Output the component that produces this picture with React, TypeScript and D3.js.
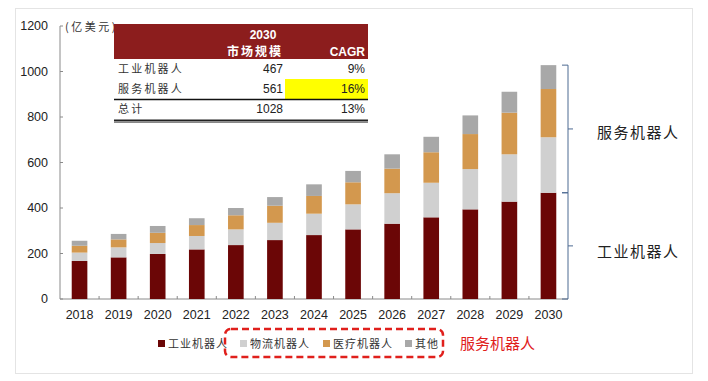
import React from "react";
import * as d3 from "d3";

const years = ["2018","2019","2020","2021","2022","2023","2024","2025","2026","2027","2028","2029","2030"];
const industrial = [167,183,198,218,237,259,281,306,331,359,394,428,467];
const logistics = [37,44,48,59,69,76,94,110,134,152,177,208,244];
const medical = [30,35,45,48,62,75,78,97,108,134,154,183,212];
const other = [22,24,30,30,32,38,51,50,63,68,82,92,105];
const yTicks = [0,200,400,600,800,1000,1200];
const seriesNames = ["工业机器人","物流机器人","医疗机器人","其他"];
const seriesColors = ["#6b0606","#d0d0d0","#d3984e","#a8a8a8"];
const tableRows = [
  { name: "工业机器人", size: "467", cagr: "9%" },
  { name: "服务机器人", size: "561", cagr: "16%" },
  { name: "总计", size: "1028", cagr: "13%" },
];

const CJK = "'Noto Sans CJK SC', sans-serif";
const LAT = "'Liberation Sans', Arial, sans-serif";

export default function App() {
  const x = d3.scaleBand<string>().domain(years).range([60, 568]).paddingInner(0.6).paddingOuter(0.3);
  const y = d3.scaleLinear().domain([0, 1200]).range([299, 26]);
  const step = x.step();
  const data = years.map((yr, i) => ({ year: yr, v: [industrial[i], logistics[i], medical[i], other[i]] }));
  const stack = d3.stack<any>().keys([0,1,2,3] as any).value((d: any, k: any) => d.v[k]);
  const stacked = stack(data as any);

  const lastIdx = years.length - 1;
  const total2030 = industrial[lastIdx] + logistics[lastIdx] + medical[lastIdx] + other[lastIdx];
  const yTop = y(total2030);
  const yMid = y(industrial[lastIdx]);
  const yBot = y(0);
  const bx = 568;
  const braceColor = "#4d6a92";
  const brace = (a: number, b: number) => {
    const m = (a + b) / 2;
    return `M${bx - 6},${a}H${bx}V${b}H${bx - 6}M${bx},${m}H${bx + 5}`;
  };

  const legendX = [158, 240, 323, 405];

  return (
    <div style={{ position: "absolute", left: 0, top: 0 }}>
      <svg width={708} height={381} style={{ display: "block", background: "#fff" }}>
        <rect x={15.5} y={8.5} width={677} height={365} fill="none" stroke="#e4e4e4" />
        {/* y axis */}
        <line x1={60} x2={60} y1={y(1200)} y2={y(0)} stroke="#8a8a8a" />
        {yTicks.map(t => (
          <g key={t}>
            <line x1={60} x2={63} y1={y(t)} y2={y(t)} stroke="#8a8a8a" />
            <text x={48} y={y(t)} dy="0.35em" textAnchor="end" fontFamily={LAT} fontSize={12.5} fill="#222">{t}</text>
          </g>
        ))}
        {/* x axis */}
        <line x1={60} x2={568} y1={y(0)} y2={y(0)} stroke="#8a8a8a" />
        {years.map((yr, i) => (
          <g key={yr}>
            {i > 0 && <line x1={(x(yr) as number) + x.bandwidth() / 2 - step / 2} x2={(x(yr) as number) + x.bandwidth() / 2 - step / 2} y1={y(0)} y2={y(0) - 3} stroke="#8a8a8a" />}
            <text x={(x(yr) as number) + x.bandwidth() / 2} y={315} dy="0.35em" textAnchor="middle" fontFamily={LAT} fontSize={12.5} fill="#222">{yr}</text>
          </g>
        ))}
        {/* bars */}
        {stacked.map((s, si) => (
          <g key={si} fill={seriesColors[si]}>
            {s.map((d: any, i: number) => (
              <rect key={i} x={x(years[i])} width={x.bandwidth()} y={y(d[1])} height={y(d[0]) - y(d[1])} />
            ))}
          </g>
        ))}
        {/* unit label */}
        <text x={65} y={31} fontFamily={CJK} fontSize={11} fill="#333" letterSpacing={2.5}>(亿美元)</text>
        {/* table */}
        <rect x={114} y={24} width={254} height={35} fill="#8c1d1d" />
        <text x={263} y={35} dy="0.35em" textAnchor="middle" fontFamily={LAT} fontWeight="bold" fontSize={12} fill="#fff">2030</text>
        <text x={283} y={52} dy="0.35em" textAnchor="end" fontFamily={CJK} fontWeight="bold" fontSize={12} fill="#fff" letterSpacing={2}>市场规模</text>
        <text x={365} y={52} dy="0.35em" textAnchor="end" fontFamily={LAT} fontWeight="bold" fontSize={12} fill="#fff">CAGR</text>
        <rect x={285} y={79} width={83} height={20} fill="#ffff00" />
        {tableRows.map((r, i) => (
          <g key={r.name}>
            <text x={118} y={69 + i * 20} dy="0.35em" fontFamily={CJK} fontSize={11} fill="#333" letterSpacing={2.2}>{r.name}</text>
            <text x={283} y={69 + i * 20} dy="0.35em" textAnchor="end" fontFamily={LAT} fontSize={12} fill="#222">{r.size}</text>
            <text x={365} y={69 + i * 20} dy="0.35em" textAnchor="end" fontFamily={LAT} fontSize={12} fill="#222">{r.cagr}</text>
          </g>
        ))}
        <line x1={114} x2={368} y1={99.5} y2={99.5} stroke="#111" strokeWidth={1.5} />
        <line x1={114} x2={368} y1={120.5} y2={120.5} stroke="#222" strokeWidth={2} />
        <line x1={114} x2={368} y1={122.5} y2={122.5} stroke="#888" strokeWidth={1} />
        {/* braces */}
        <path d={brace(yTop, yMid)} fill="none" stroke={braceColor} strokeWidth={1} />
        <path d={brace(yMid, yBot)} fill="none" stroke={braceColor} strokeWidth={1} />
        <text x={597} y={(yTop + yMid) / 2 + 4} dy="0.35em" fontFamily={CJK} fontSize={15} fill="#222" letterSpacing={1.5}>服务机器人</text>
        <text x={597} y={(yMid + yBot) / 2 + 6} dy="0.35em" fontFamily={CJK} fontSize={15} fill="#222" letterSpacing={1.5}>工业机器人</text>
        {/* legend */}
        {seriesNames.map((n, i) => (
          <g key={n}>
            <rect x={legendX[i]} y={340} width={7} height={7} fill={seriesColors[i]} />
            <text x={legendX[i] + 10} y={344} dy="0.35em" fontFamily={CJK} fontSize={11} fill="#333" letterSpacing={1}>{n}</text>
          </g>
        ))}
        <rect x={225} y={329} width={218} height={28} rx={6} fill="none" stroke="#e0201c" strokeWidth={2.5} strokeDasharray="7,4" />
        <text x={460} y={344} dy="0.35em" fontFamily={CJK} fontSize={15} fill="#e0201c">服务机器人</text>
      </svg>
    </div>
  );
}
